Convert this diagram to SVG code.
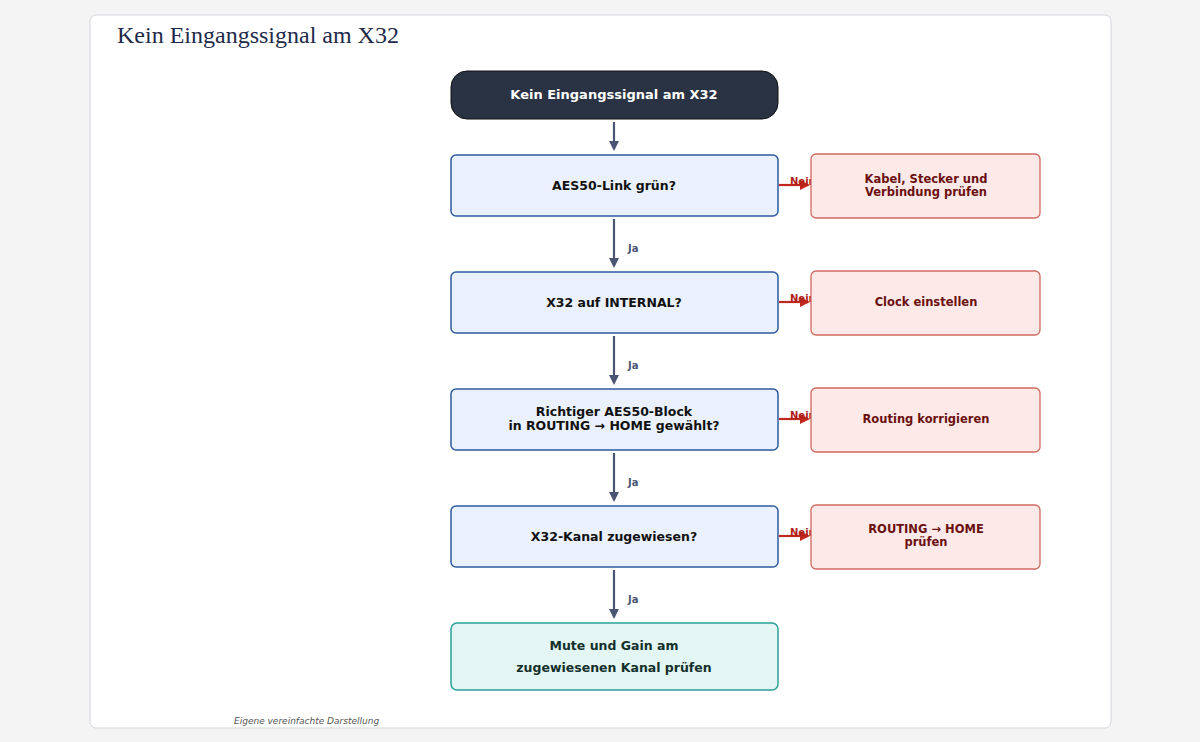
<svg xmlns="http://www.w3.org/2000/svg" width="1200" height="742" viewBox="0 0 1200 742">
<style>
text{font-family:"DejaVu Sans",sans-serif;font-weight:bold;text-anchor:middle}
.d{fill:#eaf1fc;stroke:#2d5aa0;stroke-width:1.5}
.n{fill:#fde9e8;stroke:#d06a60;stroke-width:1.3}
.dt{font-size:12.5px;fill:#111}
.nt{font-size:11.5px;fill:#6b1010}
.v{stroke:#4a5573;stroke-width:2.2;fill:none}
.r{stroke:#c0281e;stroke-width:2.2;fill:none}
.ja{font-size:10px;fill:#4a5573;text-anchor:start}
.ne{font-size:10px;fill:#b0201a;text-anchor:start}
</style>
<defs>
<marker id="ag" markerWidth="10" markerHeight="10" refX="8" refY="5" orient="auto" markerUnits="userSpaceOnUse"><path d="M0,0 L10,5 L0,10 z" fill="#4a5573"/></marker>
<marker id="ar" markerWidth="10" markerHeight="10" refX="8" refY="5" orient="auto" markerUnits="userSpaceOnUse"><path d="M0,0 L10,5 L0,10 z" fill="#c0281e"/></marker>
<clipPath id="cp"><rect x="90" y="15" width="1021" height="713" rx="6"/></clipPath>
</defs>
<rect width="1200" height="742" fill="#f4f4f4"/>
<rect x="90" y="15" width="1021" height="713" rx="6" fill="#fff" stroke="#d4d6dc"/>
<text x="117" y="43" style="font-family:'Liberation Serif',serif;font-weight:normal;font-size:24px;fill:#1e2a4a;text-anchor:start">Kein Eingangssignal am X32</text>
<g id="connectors">
<path class="v" d="M614,122V149" marker-end="url(#ag)"/>
<path class="v" d="M614,219V266" marker-end="url(#ag)"/>
<path class="v" d="M614,336V383" marker-end="url(#ag)"/>
<path class="v" d="M614,453V500" marker-end="url(#ag)"/>
<path class="v" d="M614,570V617" marker-end="url(#ag)"/>
<text class="ja" x="628" y="252">Ja</text>
<text class="ja" x="628" y="369">Ja</text>
<text class="ja" x="628" y="486">Ja</text>
<text class="ja" x="628" y="603">Ja</text>
<path class="r" d="M779,185H808" marker-end="url(#ar)"/>
<path class="r" d="M779,302H808" marker-end="url(#ar)"/>
<path class="r" d="M779,419H808" marker-end="url(#ar)"/>
<path class="r" d="M779,536H808" marker-end="url(#ar)"/>
<text class="ne" x="790" y="185">Nein</text>
<text class="ne" x="790" y="302">Nein</text>
<text class="ne" x="790" y="419">Nein</text>
<text class="ne" x="790" y="536">Nein</text>
</g>
<g id="start"><rect x="451" y="71" width="327" height="48" rx="16" fill="#2a3344" stroke="#111"/><text x="614" y="99" style="font-size:13px;fill:#fff">Kein Eingangssignal am X32</text></g>
<g id="q1"><rect class="d" x="451" y="155" width="327" height="61" rx="5"/><text class="dt" x="614" y="190">AES50-Link grün?</text></g>
<g id="q2"><rect class="d" x="451" y="272" width="327" height="61" rx="5"/><text class="dt" x="614" y="307">X32 auf INTERNAL?</text></g>
<g id="q3"><rect class="d" x="451" y="389" width="327" height="61" rx="5"/><text class="dt" x="614" y="416">Richtiger AES50-Block</text><text class="dt" x="614" y="430">in ROUTING → HOME gewählt?</text></g>
<g id="q4"><rect class="d" x="451" y="506" width="327" height="61" rx="5"/><text class="dt" x="614" y="541">X32-Kanal zugewiesen?</text></g>
<g id="n1"><rect class="n" x="811" y="154" width="229" height="64" rx="5"/><text class="nt" x="926" y="183">Kabel, Stecker und</text><text class="nt" x="926" y="196">Verbindung prüfen</text></g>
<g id="n2"><rect class="n" x="811" y="271" width="229" height="64" rx="5"/><text class="nt" x="926" y="306">Clock einstellen</text></g>
<g id="n3"><rect class="n" x="811" y="388" width="229" height="64" rx="5"/><text class="nt" x="926" y="423">Routing korrigieren</text></g>
<g id="n4"><rect class="n" x="811" y="505" width="229" height="64" rx="5"/><text class="nt" x="926" y="533">ROUTING → HOME</text><text class="nt" x="926" y="546">prüfen</text></g>
<g id="end"><rect x="451" y="623" width="327" height="67" rx="6" fill="#e3f6f3" stroke="#2aa198" stroke-width="1.5"/><text class="dt" x="614" y="650" style="fill:#14302c">Mute und Gain am</text><text class="dt" x="614" y="672" style="fill:#14302c">zugewiesenen Kanal prüfen</text></g>
<text clip-path="url(#cp)" x="234" y="724" style="font-family:'DejaVu Sans',sans-serif;font-weight:normal;font-style:italic;font-size:9px;fill:#555;text-anchor:start">Eigene vereinfachte Darstellung</text>
</svg>
